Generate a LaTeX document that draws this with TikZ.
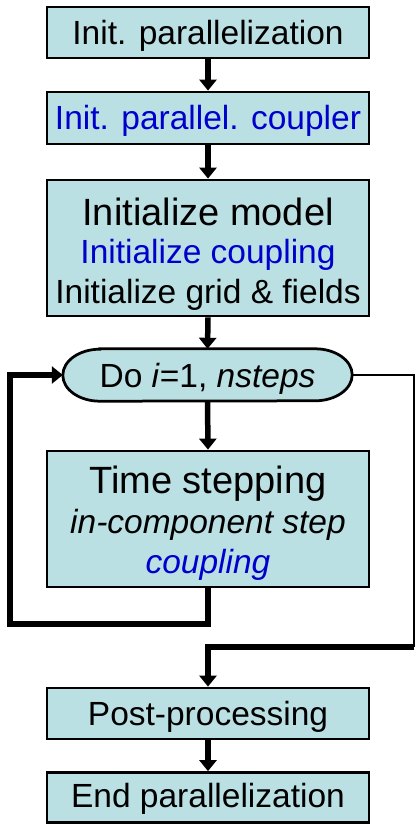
\documentclass[tikz,border=0pt]{standalone}
\usepackage{fontspec}
\setmainfont{Liberation Sans}
\usetikzlibrary{arrows.meta,backgrounds}
\definecolor{boxfill}{HTML}{BBE0E3}
\definecolor{cblue}{HTML}{0000CC}
\tikzset{
  box/.style={draw, line width=2.75pt, fill=boxfill, minimum width=322pt,
    inner sep=0pt, align=center, font=\fontsize{33.5}{38}\selectfont},
  loopnode/.style={inner sep=0pt, minimum width=289pt, align=center,
    font=\fontsize{33.5}{38}\selectfont},
  outline/.style={draw, line width=2.75pt, fill=boxfill},
  flow/.style={line width=5.5pt, -{Triangle[width=17pt,length=11pt]}},
  flowline/.style={line width=5.5pt},
  thinflow/.style={line width=2.3pt},
}
\newcommand{\bigline}{\fontsize{38}{38}\selectfont}
\begin{document}
\begin{tikzpicture}[x=1pt,y=1pt]
\useasboundingbox (0,0) rectangle (416,-824);

\node[box, text height=38pt, text depth=13pt] (b1) at (208,-32.5) {Init. parallelization};
\node[box, text height=38pt, text depth=14pt] (b2) at (208,-118) {\color{cblue}Init. parallel. coupler};
\node[box, text height=123pt, text depth=13pt] (b3) at (208,-248)
  {{\bigline Initialize model}\\ {\color{cblue}Initialize coupling}\\[2pt] Initialize grid \& fields};
\node[loopnode, text height=38pt, text depth=14pt] (loop) at (207.5,-375) {Do \textit{i}=1, \textit{nsteps}};
\node[box, text height=122pt, text depth=14pt] (b4) at (208,-519)
  {{\bigline Time stepping}\\[2pt] \textit{in-component step}\\[2pt] {\color{cblue}\textit{coupling}}};
\node[box, text height=37pt, text depth=14pt] (b5) at (208,-713.5) {Post-processing};
\node[box, text height=35pt, text depth=15pt] (b6) at (208,-797.5) {End parallelization};

\begin{scope}[on background layer]
  \draw[outline] ([xshift=37pt]loop.north west) -- ([xshift=-37pt]loop.north east)
    arc[start angle=90, end angle=-90, x radius=37pt, y radius=26pt]
    -- ([xshift=37pt]loop.south west)
    arc[start angle=270, end angle=90, x radius=37pt, y radius=26pt] -- cycle;
\end{scope}

\coordinate (lb) at (10,-624);
\coordinate (rt) at (414,-647);

\draw[flow] (b1.south) -- (b2.north);
\draw[flow] (b2.south) -- (b3.north);
\draw[flow] (b3.south) -- (loop.north);
\draw[flow] (loop.south) -- (b4.north);
\draw[flow] (b4.south) |- (lb) |- (loop.west);
\draw[thinflow] (loop.east) -| (rt);
\draw[flow] (rt) -| (b5.north);
\draw[flow] (b5.south) -- (b6.north);
\end{tikzpicture}
\end{document}
